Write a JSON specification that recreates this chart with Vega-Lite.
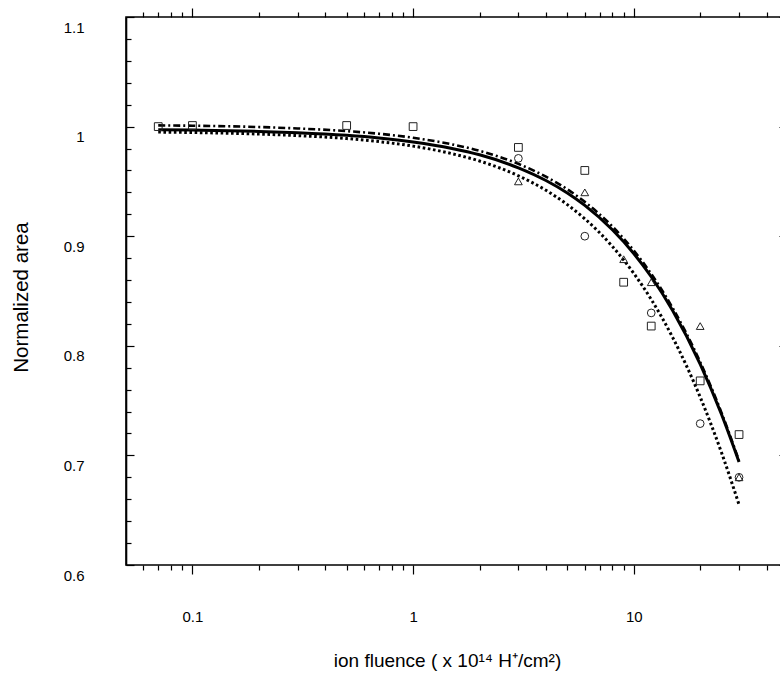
{
  "$schema": "https://vega.github.io/schema/vega-lite/v6.json",
  "width": 662,
  "height": 548,
  "autosize": {"type": "none"},
  "padding": {"left": 126, "top": 17, "right": -8, "bottom": 110},
  "config": {
    "view": {"stroke": "black", "strokeWidth": 1.6},
    "axis": {
      "grid": false,
      "domainColor": "black",
      "domainWidth": 1.6,
      "tickColor": "black",
      "tickWidth": 1.2,
      "labelColor": "black",
      "titleColor": "black",
      "labelFont": "Liberation Sans",
      "titleFont": "Liberation Sans",
      "labelFontSize": 15,
      "titleFontSize": 19,
      "titleFontWeight": "normal"
    }
  },
  "datasets": {
    "fits": [
      {"fit": "solid", "fluence": 0.07, "area": 0.9972},
      {"fit": "solid", "fluence": 0.1, "area": 0.9968},
      {"fit": "solid", "fluence": 0.2, "area": 0.9956},
      {"fit": "solid", "fluence": 0.3, "area": 0.9944},
      {"fit": "solid", "fluence": 0.5, "area": 0.992},
      {"fit": "solid", "fluence": 0.7, "area": 0.9896},
      {"fit": "solid", "fluence": 1, "area": 0.986},
      {"fit": "solid", "fluence": 1.5, "area": 0.9801},
      {"fit": "solid", "fluence": 2, "area": 0.9743},
      {"fit": "solid", "fluence": 3, "area": 0.9624},
      {"fit": "solid", "fluence": 4, "area": 0.9508},
      {"fit": "solid", "fluence": 5, "area": 0.9394},
      {"fit": "solid", "fluence": 6, "area": 0.9281},
      {"fit": "solid", "fluence": 8, "area": 0.9059},
      {"fit": "solid", "fluence": 10, "area": 0.8842},
      {"fit": "solid", "fluence": 12, "area": 0.863},
      {"fit": "solid", "fluence": 15, "area": 0.8322},
      {"fit": "solid", "fluence": 20, "area": 0.7833},
      {"fit": "solid", "fluence": 25, "area": 0.7373},
      {"fit": "solid", "fluence": 30, "area": 0.694},
      {"fit": "dashdot", "fluence": 0.07, "area": 1.0011},
      {"fit": "dashdot", "fluence": 0.1, "area": 1.0008},
      {"fit": "dashdot", "fluence": 0.2, "area": 0.9996},
      {"fit": "dashdot", "fluence": 0.3, "area": 0.9983},
      {"fit": "dashdot", "fluence": 0.5, "area": 0.9959},
      {"fit": "dashdot", "fluence": 0.7, "area": 0.9935},
      {"fit": "dashdot", "fluence": 1, "area": 0.9898},
      {"fit": "dashdot", "fluence": 1.5, "area": 0.9838},
      {"fit": "dashdot", "fluence": 2, "area": 0.9779},
      {"fit": "dashdot", "fluence": 3, "area": 0.966},
      {"fit": "dashdot", "fluence": 4, "area": 0.9543},
      {"fit": "dashdot", "fluence": 5, "area": 0.9428},
      {"fit": "dashdot", "fluence": 6, "area": 0.9313},
      {"fit": "dashdot", "fluence": 8, "area": 0.9089},
      {"fit": "dashdot", "fluence": 10, "area": 0.887},
      {"fit": "dashdot", "fluence": 12, "area": 0.8656},
      {"fit": "dashdot", "fluence": 15, "area": 0.8346},
      {"fit": "dashdot", "fluence": 20, "area": 0.7852},
      {"fit": "dashdot", "fluence": 25, "area": 0.7388},
      {"fit": "dashdot", "fluence": 30, "area": 0.6951},
      {"fit": "dotted", "fluence": 0.07, "area": 0.995},
      {"fit": "dotted", "fluence": 0.1, "area": 0.9946},
      {"fit": "dotted", "fluence": 0.2, "area": 0.9932},
      {"fit": "dotted", "fluence": 0.3, "area": 0.9918},
      {"fit": "dotted", "fluence": 0.5, "area": 0.9891},
      {"fit": "dotted", "fluence": 0.7, "area": 0.9863},
      {"fit": "dotted", "fluence": 1, "area": 0.9822},
      {"fit": "dotted", "fluence": 1.5, "area": 0.9753},
      {"fit": "dotted", "fluence": 2, "area": 0.9686},
      {"fit": "dotted", "fluence": 3, "area": 0.9551},
      {"fit": "dotted", "fluence": 4, "area": 0.9419},
      {"fit": "dotted", "fluence": 5, "area": 0.9288},
      {"fit": "dotted", "fluence": 6, "area": 0.9159},
      {"fit": "dotted", "fluence": 8, "area": 0.8907},
      {"fit": "dotted", "fluence": 10, "area": 0.8661},
      {"fit": "dotted", "fluence": 12, "area": 0.8423},
      {"fit": "dotted", "fluence": 15, "area": 0.8077},
      {"fit": "dotted", "fluence": 20, "area": 0.7532},
      {"fit": "dotted", "fluence": 25, "area": 0.7024},
      {"fit": "dotted", "fluence": 30, "area": 0.655}
    ],
    "points": [
      {"series": "square", "fluence": 0.07, "area": 1.0},
      {"series": "square", "fluence": 0.1, "area": 1.001},
      {"series": "square", "fluence": 0.5, "area": 1.001},
      {"series": "square", "fluence": 1, "area": 1.0},
      {"series": "square", "fluence": 3, "area": 0.981},
      {"series": "square", "fluence": 6, "area": 0.96},
      {"series": "square", "fluence": 9, "area": 0.858},
      {"series": "square", "fluence": 12, "area": 0.818},
      {"series": "square", "fluence": 20, "area": 0.768},
      {"series": "square", "fluence": 30, "area": 0.719},
      {"series": "circle", "fluence": 3, "area": 0.971},
      {"series": "circle", "fluence": 6, "area": 0.9},
      {"series": "circle", "fluence": 12, "area": 0.83},
      {"series": "circle", "fluence": 20, "area": 0.729},
      {"series": "circle", "fluence": 30, "area": 0.68},
      {"series": "triangle", "fluence": 3, "area": 0.95},
      {"series": "triangle", "fluence": 6, "area": 0.94},
      {"series": "triangle", "fluence": 9, "area": 0.879},
      {"series": "triangle", "fluence": 12, "area": 0.858},
      {"series": "triangle", "fluence": 20, "area": 0.818},
      {"series": "triangle", "fluence": 30, "area": 0.68}
    ]
  },
  "resolve": {"axis": {"x": "independent", "y": "independent"}},
  "layer": [
    {
      "data": {"name": "fits"},
      "transform": [{"filter": "datum.fit === 'solid'"}],
      "mark": {"type": "line", "interpolate": "monotone", "color": "black", "strokeWidth": 3},
      "encoding": {
        "x": {
          "field": "fluence", "type": "quantitative",
          "scale": {"type": "log", "domain": [0.05, 50], "nice": false},
          "axis": {
            "orient": "bottom",
            "values": [0.1, 1, 10],
            "format": "~g",
            "domain": false,
            "tickSize": 9,
            "labelPadding": 35,
            "labelFlush": false,
            "labelOverlap": false,
            "title": "ion fluence ( x 10¹⁴ H⁺/cm²)",
            "titleX": 321,
            "titleY": 101,
            "titleBaseline": "alphabetic",
            "titleAnchor": "middle"
          }
        },
        "y": {
          "field": "area", "type": "quantitative",
          "scale": {"domain": [0.6, 1.1], "zero": false, "nice": false},
          "axis": {
            "orient": "left",
            "values": [0.6, 0.62, 0.64, 0.66, 0.68, 0.7, 0.72, 0.74, 0.76, 0.78, 0.8, 0.82, 0.84, 0.86, 0.88, 0.9, 0.92, 0.94, 0.96, 0.98, 1, 1.02, 1.04, 1.06, 1.08, 1.1],
            "format": "~g",
            "labelExpr": "abs(datum.value * 10 - round(datum.value * 10)) < 0.001 ? datum.label : ''",
            "tickSize": {"condition": {"test": "abs(datum.value * 10 - round(datum.value * 10)) < 0.001", "value": -8}, "value": -5},
            "labelPadding": 50,
            "labelOffset": 10,
            "labelFlush": false,
            "labelOverlap": false,
            "title": "Normalized area",
            "titleFontSize": 20.5,
            "titleX": -99,
            "titleY": 280,
            "titleBaseline": "alphabetic",
            "titleAnchor": "middle"
          }
        }
      }
    },
    {
      "data": {"name": "fits"},
      "transform": [{"filter": "datum.fit === 'dashdot'"}],
      "mark": {"type": "line", "interpolate": "monotone", "color": "black", "strokeWidth": 2.6, "strokeDash": [7, 3, 2, 3]},
      "encoding": {
        "x": {
          "field": "fluence", "type": "quantitative",
          "axis": {
            "orient": "bottom",
            "values": [0.06, 0.07, 0.08, 0.09, 0.2, 0.3, 0.4, 0.5, 0.6, 0.7, 0.8, 0.9, 2, 3, 4, 5, 6, 7, 8, 9, 20, 30, 40],
            "labels": false,
            "domain": false,
            "title": null,
            "tickSize": 5
          }
        },
        "y": {"field": "area", "type": "quantitative", "axis": null}
      }
    },
    {
      "data": {"name": "fits"},
      "transform": [{"filter": "datum.fit === 'dotted'"}],
      "mark": {"type": "line", "interpolate": "monotone", "color": "black", "strokeWidth": 3, "strokeDash": [2.6, 2.6]},
      "encoding": {
        "x": {
          "field": "fluence", "type": "quantitative",
          "axis": {
            "orient": "top",
            "values": [0.06, 0.07, 0.08, 0.09, 0.2, 0.3, 0.4, 0.5, 0.6, 0.7, 0.8, 0.9, 2, 3, 4, 5, 6, 7, 8, 9, 20, 30, 40],
            "labels": false,
            "domain": false,
            "title": null,
            "tickSize": 5
          }
        },
        "y": {"field": "area", "type": "quantitative", "axis": null}
      }
    },
    {
      "data": {"name": "points"},
      "mark": {"type": "point", "filled": false, "color": "#222", "strokeWidth": 1, "size": 60, "opacity": 1},
      "encoding": {
        "x": {
          "field": "fluence", "type": "quantitative",
          "axis": {
            "orient": "top",
            "values": [0.1, 1, 10],
            "labels": false,
            "domain": false,
            "title": null,
            "tickSize": 9
          }
        },
        "y": {
          "field": "area", "type": "quantitative",
          "axis": {
            "orient": "right",
            "values": [0.6, 0.7, 0.8, 0.9, 1, 1.1],
            "labels": false,
            "title": null,
            "tickSize": -9
          }
        },
        "shape": {
          "field": "series", "type": "nominal",
          "scale": {"domain": ["square", "circle", "triangle"], "range": ["square", "circle", "triangle-up"]},
          "legend": null
        }
      }
    }
  ]
}
